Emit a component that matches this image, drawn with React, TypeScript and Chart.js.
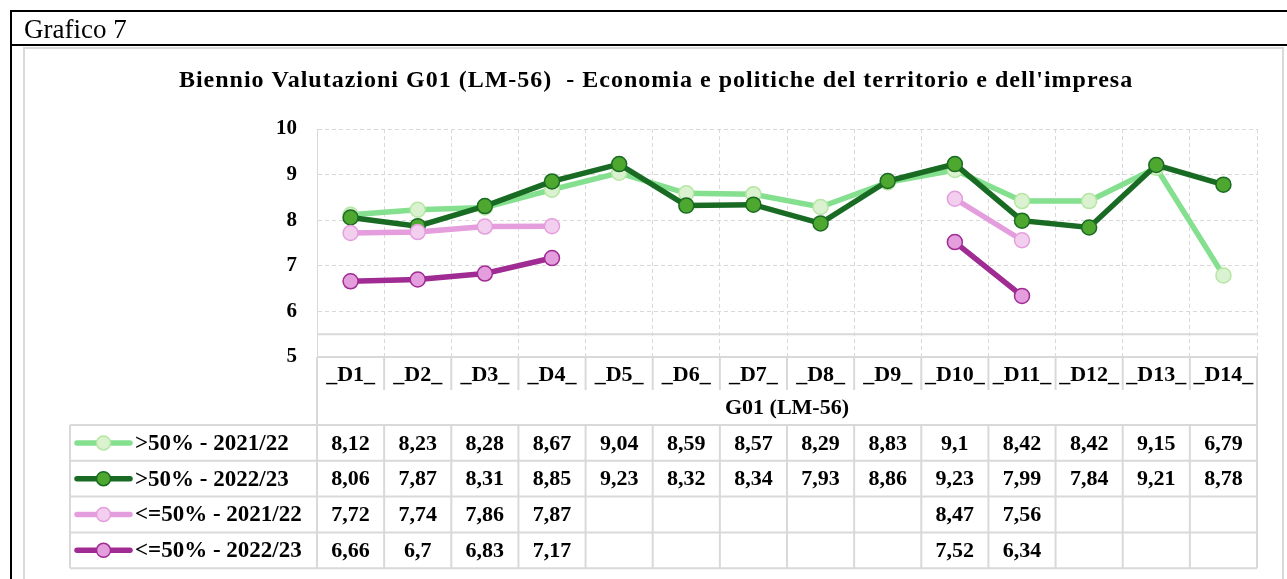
import React, { useEffect, useRef } from "react";
import { Chart, registerables } from "chart.js";

Chart.register(...registerables);

const frameTitle = "Grafico 7";
const chartTitle = "Biennio Valutazioni G01 (LM-56)  - Economia e politiche del territorio e dell'impresa";
const axisTitle = "G01 (LM-56)";

const categories = ["_D1_", "_D2_", "_D3_", "_D4_", "_D5_", "_D6_", "_D7_", "_D8_", "_D9_", "_D10_", "_D11_", "_D12_", "_D13_", "_D14_"];

const seriesLabels = [">50% - 2021/22", ">50% - 2022/23", "<=50% - 2021/22", "<=50% - 2022/23"];

const over50_2122: (number | null)[] = [8.12, 8.23, 8.28, 8.67, 9.04, 8.59, 8.57, 8.29, 8.83, 9.1, 8.42, 8.42, 9.15, 6.79];
const over50_2223: (number | null)[] = [8.06, 7.87, 8.31, 8.85, 9.23, 8.32, 8.34, 7.93, 8.86, 9.23, 7.99, 7.84, 9.21, 8.78];
const under50_2122: (number | null)[] = [7.72, 7.74, 7.86, 7.87, null, null, null, null, null, 8.47, 7.56, null, null, null];
const under50_2223: (number | null)[] = [6.66, 6.7, 6.83, 7.17, null, null, null, null, null, 7.52, 6.34, null, null, null];

const yMin = 5;
const yMax = 10;
const yStep = 1;

const seriesData = [over50_2122, over50_2223, under50_2122, under50_2223];
const lineColors = ["#84E08E", "#196B24", "#E59EDD", "#A02B93"];
const pointFills = ["#DAF2D0", "#4EA72E", "#F2CEEF", "#E59EDD"];
const pointBorders = ["#B5E6A2", "#196B24", "#E59EDD", "#A02B93"];

const FONT = "'Liberation Serif', 'Times New Roman', serif";
const GRID = "#d9d9d9";

const fmt = (v: number | null) => (v == null ? "" : String(v).replace(".", ","));

const decoPlugin = {
  id: "excelDeco",
  beforeDraw(chart: any) {
    const ctx = chart.ctx;
    ctx.save();
    ctx.fillStyle = "#fff";
    ctx.fillRect(0, 0, chart.width, chart.height);
    // black frame
    ctx.fillStyle = "#000";
    ctx.fillRect(10, 10, chart.width - 10, 2);
    ctx.fillRect(10, 10, 2, chart.height - 10);
    ctx.fillRect(10, 44, chart.width - 10, 2);
    ctx.font = `27px ${FONT}`;
    ctx.textAlign = "left";
    ctx.textBaseline = "alphabetic";
    ctx.fillText(frameTitle, 24, 38);
    // panel border
    ctx.strokeStyle = GRID;
    ctx.lineWidth = 2;
    ctx.strokeRect(24, 48, 1259, 600);
    // title
    ctx.fillStyle = "#000";
    ctx.font = `bold 24px ${FONT}`;
    (ctx as any).letterSpacing = "1px";
    ctx.textAlign = "center";
    ctx.textBaseline = "alphabetic";
    ctx.fillText(chartTitle, 656, 87);
    (ctx as any).letterSpacing = "0px";
    ctx.restore();
  },
  beforeDatasetsDraw(chart: any) {
    const ctx = chart.ctx;
    const { left, right } = chart.chartArea;
    const y = chart.scales.y.getPixelForValue(5.5);
    ctx.save();
    ctx.strokeStyle = GRID;
    ctx.lineWidth = 2;
    ctx.beginPath();
    ctx.moveTo(left, y);
    ctx.lineTo(right, y);
    ctx.stroke();
    ctx.restore();
  },
  afterDraw(chart: any) {
    const ctx = chart.ctx;
    const { left, right, bottom } = chart.chartArea;
    const n = categories.length;
    const colW = (right - left) / n;
    const legendLeft = 70;
    const rowTop = bottom + 68;
    const rowH = 35.8;
    const nRows = seriesData.length;
    const tableBottom = rowTop + rowH * nRows;
    ctx.save();
    ctx.strokeStyle = GRID;
    ctx.lineWidth = 2;
    ctx.beginPath();
    ctx.moveTo(left, bottom);
    ctx.lineTo(right, bottom);
    ctx.moveTo(left, bottom);
    ctx.lineTo(left, tableBottom);
    ctx.moveTo(right, bottom);
    ctx.lineTo(right, tableBottom);
    for (let i = 1; i < n; i++) {
      const x = left + i * colW;
      ctx.moveTo(x, bottom);
      ctx.lineTo(x, bottom + 33);
      ctx.moveTo(x, rowTop);
      ctx.lineTo(x, tableBottom);
    }
    for (let r = 0; r <= nRows; r++) {
      const y = rowTop + r * rowH;
      ctx.moveTo(legendLeft, y);
      ctx.lineTo(right, y);
    }
    ctx.moveTo(legendLeft, rowTop);
    ctx.lineTo(legendLeft, tableBottom);
    ctx.stroke();

    ctx.fillStyle = "#000";
    ctx.textAlign = "center";
    ctx.textBaseline = "middle";
    ctx.font = `bold 22px ${FONT}`;
    categories.forEach((c, i) => {
      ctx.fillText(c, left + (i + 0.5) * colW, bottom + 18);
    });
    ctx.fillText(axisTitle, (left + right) / 2, bottom + 51);

    seriesData.forEach((arr, r) => {
      const yc = rowTop + (r + 0.5) * rowH;
      ctx.font = `bold 22px ${FONT}`;
      ctx.textAlign = "center";
      ctx.fillStyle = "#000";
      arr.forEach((v, i) => {
        if (v != null) ctx.fillText(fmt(v), left + (i + 0.5) * colW, yc + 1);
      });
      // legend key
      ctx.strokeStyle = lineColors[r];
      ctx.lineWidth = 5.5;
      ctx.lineCap = "round";
      ctx.beginPath();
      ctx.moveTo(77, yc);
      ctx.lineTo(130, yc);
      ctx.stroke();
      ctx.beginPath();
      ctx.arc(103.5, yc, 7, 0, Math.PI * 2);
      ctx.fillStyle = pointFills[r];
      ctx.fill();
      ctx.lineWidth = 1.5;
      ctx.strokeStyle = pointBorders[r];
      ctx.stroke();
      ctx.fillStyle = "#000";
      ctx.textAlign = "left";
      ctx.font = `bold 23px ${FONT}`;
      ctx.fillText(seriesLabels[r], 135, yc + 1);
    });
    ctx.restore();
  },
};

export default function App() {
  const ref = useRef<HTMLCanvasElement | null>(null);
  useEffect(() => {
    if (!ref.current) return;
    const chart = new Chart(ref.current, {
      type: "line",
      data: {
        labels: categories,
        datasets: seriesData.map((d, i) => ({
          label: seriesLabels[i],
          data: d,
          borderColor: lineColors[i],
          backgroundColor: pointFills[i],
          borderWidth: 5.5,
          pointRadius: 7.5,
          pointBorderWidth: 1.5,
          pointBackgroundColor: pointFills[i],
          pointBorderColor: pointBorders[i],
          spanGaps: false,
          tension: 0,
          order: seriesData.length - i,
        })),
      },
      options: {
        animation: false,
        responsive: false,
        devicePixelRatio: 1,
        layout: { padding: { left: 0, right: 30, top: 129, bottom: 222 } },
        plugins: {
          legend: { display: false },
          title: { display: false },
          tooltip: { enabled: false },
        },
        scales: {
          x: {
            offset: true,
            grid: {
              offset: true,
              color: GRID,
              lineWidth: 1,
              drawTicks: false,
            },
            border: { display: true, dash: [4, 3], color: GRID },
            ticks: { display: false },
            afterFit: (s: any) => {
              s.height = 0;
            },
          },
          y: {
            min: yMin,
            max: yMax,
            ticks: {
              stepSize: yStep,
              padding: 20,
              color: "#000",
              font: { family: FONT, size: 21, weight: "bold" },
            },
            grid: { color: GRID, lineWidth: 1, drawTicks: false },
            border: { display: true, color: GRID, dash: [4, 3] },
            afterFit: (s: any) => {
              s.width = 317;
            },
          },
        },
      },
      plugins: [decoPlugin],
    } as any);
    return () => chart.destroy();
  }, []);
  return (
    <div style={{ position: "absolute", left: 0, top: 0, width: 1287, height: 579, overflow: "hidden" }}>
      <canvas ref={ref} width={1287} height={579} style={{ display: "block" }} />
    </div>
  );
}
